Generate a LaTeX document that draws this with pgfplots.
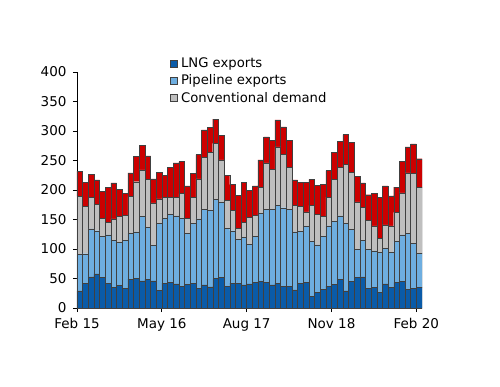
\documentclass[border=0pt]{standalone}
\usepackage{fontspec}
\setmainfont{DejaVu Sans}
\usepackage{pgfplots}
\pgfplotsset{compat=1.18}
\usepackage{pgfplotstable}
\definecolor{lngc}{HTML}{0A5BA8}
\definecolor{pipec}{HTML}{6EAEE0}
\definecolor{convc}{HTML}{BFBFBF}
\definecolor{otherc}{HTML}{CC0000}
\pgfplotsset{sqlegend/.style={legend image code/.code={\draw[##1,line width=0.4pt] (0pt,-3.5pt) rectangle (7pt,3.5pt);}}}
\pgfplotstableread{
x lng pipe conv other
0.5 29 62 98 43
1.5 42 50 80 41
2.5 53 81 54 38
3.5 58 73 45 41
4.5 52 70 30 46
5.5 42 82 21 60
6.5 35 80 36 61
7.5 38 73 44 46
8.5 33 82 42 37
9.5 49 78 62 40
10.5 50 79 85 43
11.5 46 109 79 42
12.5 49 88 81 40
13.5 46 60 72 41
14.5 30 114 41 45
15.5 42 110 35 38
16.5 44 115 29 50
17.5 41 115 32 58
18.5 37 115 42 54
19.5 40 87 25 55
20.5 42 101 44 41
21.5 33 118 68 41
22.5 39 128 88 47
23.5 36 129 99 42
24.5 50 134 95 41
25.5 52 127 72 42
26.5 37 98 48 42
27.5 42 89 35 43
28.5 42 74 19 56
29.5 39 81 25 68
30.5 41 67 46 46
31.5 44 77 36 50
32.5 45 116 43 47
33.5 43 124 79 44
34.5 39 128 68 49
35.5 42 132 99 46
36.5 37 133 90 47
37.5 37 130 71 46
38.5 31 98 45 43
39.5 42 88 42 41
40.5 44 94 25 50
41.5 20 93 61 44
42.5 26 81 52 49
43.5 32 89 34 54
44.5 37 102 49 45
45.5 40 107 71 46
46.5 49 107 82 45
47.5 29 115 99 51
48.5 45 88 97 51
49.5 52 47 81 43
50.5 53 62 56 41
51.5 33 66 49 44
52.5 35 62 42 55
53.5 27 67 24 70
54.5 41 60 40 66
55.5 35 59 45 51
56.5 43 70 49 43
57.5 45 79 71 53
58.5 32 95 102 44
59.5 33 77 118 50
60.5 35 58 111 49
}\data
\begin{document}
\begin{tikzpicture}
\useasboundingbox (-77pt,-78pt) rectangle (423pt,308pt);
\begin{axis}[
  at={(0,0)}, anchor=south west,
  scale only axis, width=345pt, height=236pt,
  xmin=0, xmax=61, ymin=0, ymax=400,
  enlargelimits=false,
  ybar stacked, bar width=1,
  axis x line*=bottom, axis y line*=left,
  axis line style={line width=0.8pt},
  tick align=outside, major tick length=4pt,
  tick style={line width=0.8pt, black},
  xtick={0,15,30,45,60},
  xticklabels={Feb 15,May 16,Aug 17,Nov 18,Feb 20},
  ytick={0,50,...,400},
  tick label style={font=\fontsize{13.5}{15}\selectfont},
  xticklabel style={yshift=-3pt},
  yticklabel style={xshift=-3pt},
  /pgf/number format/assume math mode=true,
  legend style={draw=none, fill=none, at={(0.268,1.068)}, anchor=north west,
    font=\fontsize{13.2}{15}\selectfont, inner sep=0pt, row sep=1.5pt,
    nodes={inner xsep=4pt}},
  legend cell align=left,
]
\addplot[fill=lngc, draw=black!75, line width=0.4pt, sqlegend] table[x=x, y=lng] {\data};
\addlegendentry{LNG exports}
\addplot[fill=pipec, draw=black!75, line width=0.4pt, sqlegend] table[x=x, y=pipe] {\data};
\addlegendentry{Pipeline exports}
\addplot[fill=convc, draw=black!75, line width=0.4pt, sqlegend] table[x=x, y=conv] {\data};
\addlegendentry{Conventional demand}
\addplot[fill=otherc, draw=black!75, line width=0.4pt] table[x=x, y=other] {\data};
\end{axis}
\end{tikzpicture}
\end{document}
